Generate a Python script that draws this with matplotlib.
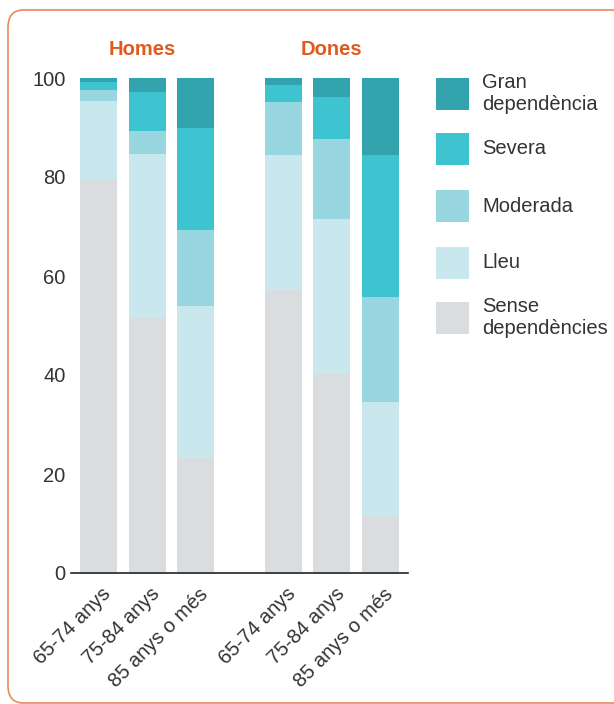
import matplotlib
matplotlib.use('Agg')
import matplotlib.pyplot as plt
from matplotlib.patches import FancyBboxPatch, Rectangle
import matplotlib.transforms as mtransforms
import numpy as np

plt.rcParams['font.family'] = ['Liberation Sans', 'DejaVu Sans']

# data (% of people)
age_labels = ['65-74 anys', '75-84 anys', '85 anys o més',
              '65-74 anys', '75-84 anys', '85 anys o més']
groups = ['Homes', 'Dones']
categories = ['Sense\ndependències', 'Lleu', 'Moderada', 'Severa', 'Gran\ndependència']
sense = [79.6, 51.5, 23.2, 57.2, 40.2, 11.5]
lleu = [15.8, 33.1, 30.7, 27.3, 31.3, 23.0]
moderada = [2.2, 4.6, 15.4, 10.7, 16.2, 21.2]
severa = [1.6, 7.9, 20.6, 3.4, 8.5, 28.7]
gran = [0.8, 2.9, 10.1, 1.4, 3.8, 15.6]
colors = ['#d9dde0', '#c9e8ee', '#98d7e0', '#3ec3d0', '#33a3ae']

series = [sense, lleu, moderada, severa, gran]
xpos = np.array([0, 1, 2, 3.8, 4.8, 5.8])

W, H = 614, 704
fig = plt.figure(figsize=(W / 100, H / 100), dpi=100)

# rounded orange frame
frame = FancyBboxPatch((8 / W, 1 - 703 / H), 700 / W, 693 / H,
                       boxstyle='round,pad=0,rounding_size=0.025',
                       transform=fig.transFigure, fill=False,
                       edgecolor='#e9895c', linewidth=1.2)
fig.patches.append(frame)

ax = fig.add_axes([71 / W, 1 - 573 / H, 337 / W, 495 / H])
bottom = np.zeros(len(xpos))
for vals, c in zip(series, colors):
    ax.bar(xpos, vals, width=0.76, bottom=bottom, color=c, linewidth=0)
    bottom += np.array(vals)

ax.set_xlim(-0.566, 6.37)
ax.set_ylim(0, 100)
for s in ['top', 'right', 'left']:
    ax.spines[s].set_visible(False)
ax.spines['bottom'].set_color('#222222')
ax.spines['bottom'].set_linewidth(1.2)
ax.set_yticks([0, 20, 40, 60, 80, 100])
ax.tick_params(axis='y', length=0, labelsize=14.5, labelcolor='#333333', pad=4)
ax.set_xticks(xpos)
ax.set_xticklabels(age_labels, rotation=45, ha='right', va='top',
                   rotation_mode='anchor', fontsize=14.5, color='#333333')
ax.tick_params(axis='x', length=0, pad=6)
off = mtransforms.ScaledTranslation(3 / 100, -3 / 100, fig.dpi_scale_trans)
for lab in ax.get_xticklabels():
    lab.set_transform(lab.get_transform() + off)

# group titles
for g, cx in zip(groups, [xpos[1] - 0.1, xpos[4]]):
    ax.text(cx, 1.057, g, transform=ax.get_xaxis_transform(), ha='center',
            va='center', fontsize=14.5, fontweight='bold', color='#e05a1e')

# legend
leg_top = [78, 133, 190, 247, 302]
for i, (lab, c) in enumerate(zip(categories[::-1], colors[::-1])):
    y0 = leg_top[i]
    fig.patches.append(Rectangle((436 / W, 1 - (y0 + 32) / H), 33 / W, 32 / H,
                                 transform=fig.transFigure, color=c, linewidth=0))
    fig.text(482 / W, 1 - (y0 + 16) / H, lab, ha='left', va='center',
             fontsize=14.5, color='#333333', linespacing=1.2)

fig.savefig('out.png', dpi=100)
